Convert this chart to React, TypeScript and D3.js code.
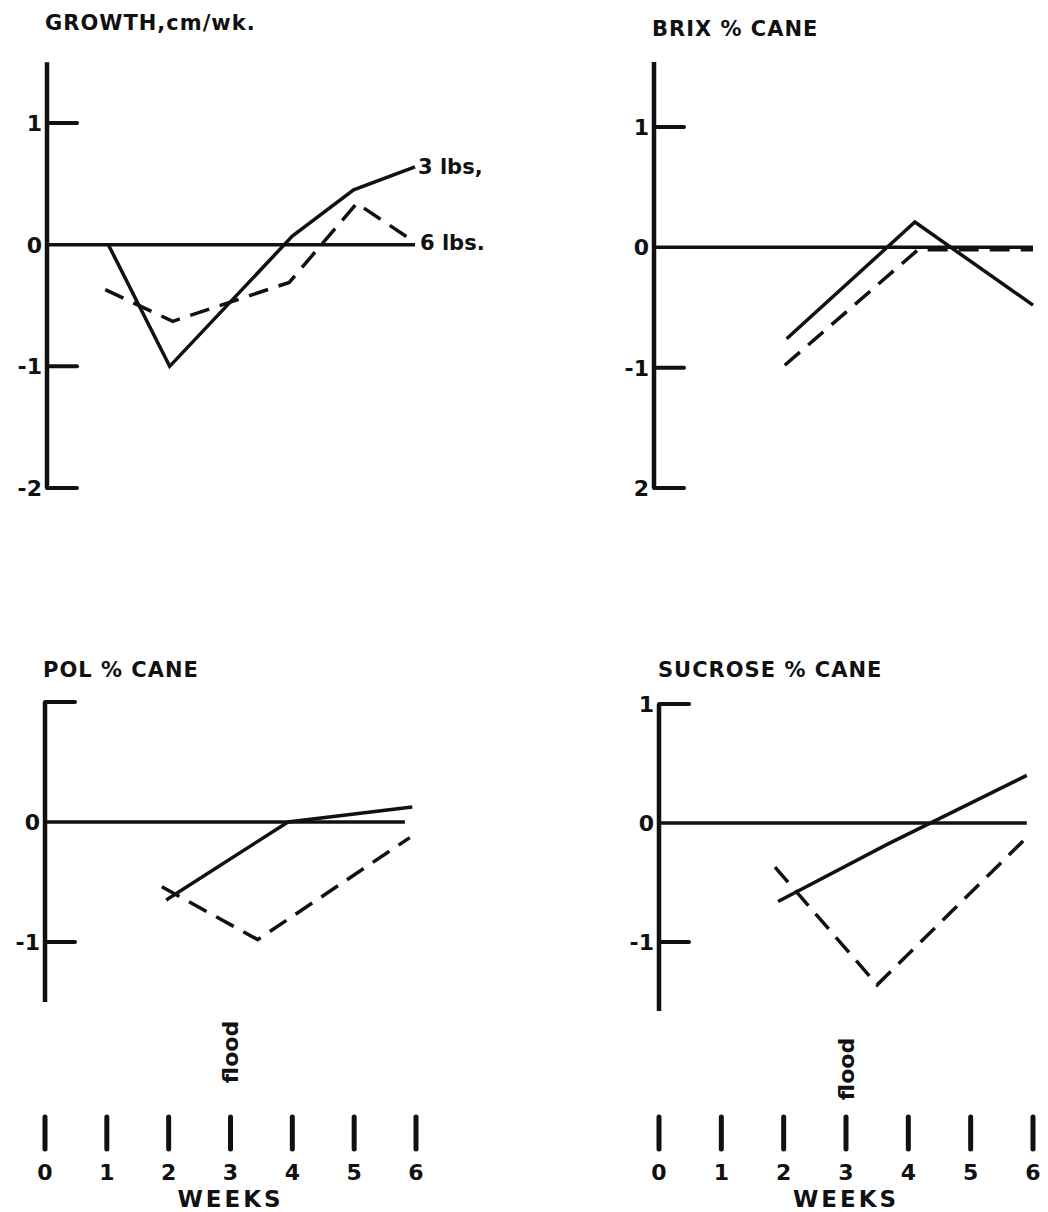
import React from 'react';
import * as d3 from 'd3';

const weeks = [0, 1, 2, 3, 4, 5, 6];
const weekLabels = ['0', '1', '2', '3', '4', '5', '6'];
const lineNames = ['3 lbs,', '6 lbs.'];

// [week, change]; solid = 3 lbs, dashed = 6 lbs
const growth3 = [[1, 0], [2, -1.0], [4, 0.07], [5, 0.45], [6, 0.64]];
const growth6 = [[0.95, -0.37], [2.05, -0.63], [3.95, -0.31], [5.05, 0.34], [6, 0.02]];
const brix3 = [[2.1, -0.76], [4.13, 0.21], [6, -0.48]];
const brix6 = [[2.07, -0.98], [4.18, -0.02], [6, -0.02]];
const pol3 = [[1.96, -0.65], [3.93, 0], [5.94, 0.125]];
const pol6 = [[1.89, -0.54], [3.44, -0.98], [5.9, -0.13]];
const sucrose3 = [[1.91, -0.66], [3.66, -0.18], [5.9, 0.4]];
const sucrose6 = [[1.86, -0.37], [3.5, -1.36], [5.92, -0.11]];

const growthTicks = [1, -1, -2];
const growthTickLabels = ['1', '0', '-1', '-2'];
const brixTicks = [1, -1, -2];
const brixTickLabels = ['1', '0', '-1', '2'];
const polTicks = [1, -1];
const polTickLabels = ['', '0', '-1'];
const sucroseTicks = [1, -1];
const sucroseTickLabels = ['1', '0', '-1'];

const FONT = '"DejaVu Sans", Verdana, sans-serif';

const panels = [
  {
    title: 'GROWTH,cm/wk.', titleX: 45, titleY: 30,
    xr: [47, 415], yd: [1, -2], yr: [123, 488], top: 1.5, bottom: -2, zeroEnd: 6,
    ticks: growthTicks, labelVals: [1, 0, -1, -2], labels: growthTickLabels,
    solid: growth3, dashed: growth6, endLabels: true, weeksAxis: false,
  },
  {
    title: 'BRIX % CANE', titleX: 652, titleY: 36,
    xr: [654, 1033], yd: [1, -2], yr: [127, 488], top: 1.54, bottom: -2, zeroEnd: 6,
    ticks: brixTicks, labelVals: [1, 0, -1, -2], labels: brixTickLabels,
    solid: brix3, dashed: brix6, endLabels: false, weeksAxis: false,
  },
  {
    title: 'POL % CANE', titleX: 43, titleY: 677,
    xr: [45, 416], yd: [1, -1], yr: [702, 942], top: 1, bottom: -1.5, zeroEnd: 5.82,
    ticks: polTicks, labelVals: [1, 0, -1], labels: polTickLabels,
    solid: pol3, dashed: pol6, endLabels: false, weeksAxis: true, floodY: 1052,
  },
  {
    title: 'SUCROSE % CANE', titleX: 658, titleY: 677,
    xr: [659, 1033], yd: [1, -1], yr: [704, 942], top: 1, bottom: -1.58, zeroEnd: 5.9,
    ticks: sucroseTicks, labelVals: [1, 0, -1], labels: sucroseTickLabels,
    solid: sucrose3, dashed: sucrose6, endLabels: false, weeksAxis: true, floodY: 1069,
  },
];

function Panel({ p }) {
  const x = d3.scaleLinear().domain([0, 6]).range(p.xr);
  const y = d3.scaleLinear().domain(p.yd).range(p.yr);
  const line = d3.line().x((d) => x(d[0])).y((d) => y(d[1]));
  const ax = x(0);
  return (
    <g fontFamily={FONT} fontWeight="bold" fill="#111">
      <text x={p.titleX} y={p.titleY} fontSize={21} letterSpacing={1}>{p.title}</text>
      {/* y axis */}
      <line x1={ax} x2={ax} y1={y(p.top)} y2={y(p.bottom)} stroke="#111" strokeWidth={4.5} />
      {p.ticks.map((t) => (
        <line key={t} x1={ax} x2={ax + 30} y1={y(t)} y2={y(t)} stroke="#111" strokeWidth={4} strokeLinecap="round" />
      ))}
      {p.labelVals.map((v, i) => (
        <text key={v} x={ax - 5} y={y(v)} dy="0.36em" textAnchor="end" fontSize={22}>{p.labels[i]}</text>
      ))}
      {/* zero line */}
      <line x1={ax} x2={x(p.zeroEnd)} y1={y(0)} y2={y(0)} stroke="#111" strokeWidth={3.5} />
      <path d={line(p.solid)} fill="none" stroke="#111" strokeWidth={3.5} strokeLinejoin="miter" />
      <path d={line(p.dashed)} fill="none" stroke="#111" strokeWidth={3.5} strokeDasharray="20 11" />
      {p.endLabels && (
        <g fontSize={21}>
          <text x={x(6) + 3} y={y(p.solid[p.solid.length - 1][1])} dy="0.36em">{lineNames[0]}</text>
          <text x={x(6) + 5} y={y(p.dashed[p.dashed.length - 1][1])} dy="0.36em">{lineNames[1]}</text>
        </g>
      )}
      {p.weeksAxis && (
        <g>
          <text
            transform={`translate(${x(3)},${p.floodY}) rotate(-90)`}
            textAnchor="middle" dy="0.36em" fontSize={22}
          >flood</text>
          {weeks.map((w, i) => (
            <g key={w}>
              <line x1={x(w)} x2={x(w)} y1={1117} y2={1149} stroke="#111" strokeWidth={5} strokeLinecap="round" />
              <text x={x(w)} y={1180} textAnchor="middle" fontSize={22}>{weekLabels[i]}</text>
            </g>
          ))}
          <text x={x(3)} y={1207} textAnchor="middle" fontSize={23} letterSpacing={3}>WEEKS</text>
        </g>
      )}
    </g>
  );
}

export default function App() {
  return (
    <svg
      width={1048}
      height={1212}
      style={{ position: 'absolute', left: 0, top: 0, background: '#fff' }}
    >
      <rect width={1048} height={1212} fill="#fff" />
      {panels.map((p) => <Panel key={p.title} p={p} />)}
    </svg>
  );
}
